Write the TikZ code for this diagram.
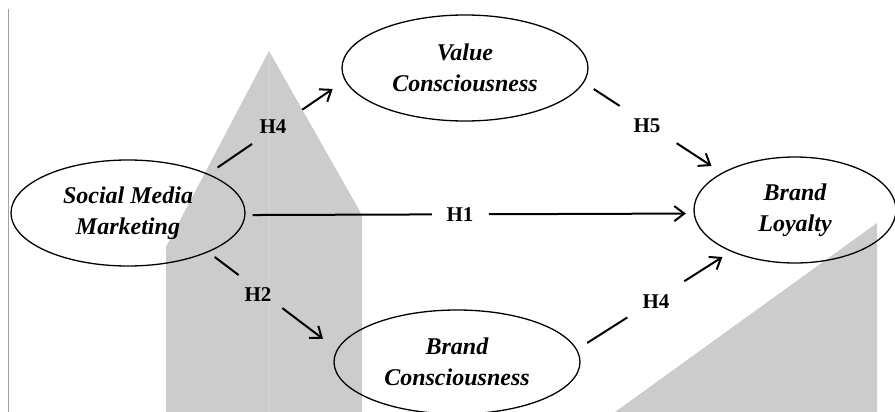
\documentclass[tikz,border=0pt]{standalone}
\usepackage{fontspec}
\setmainfont{Liberation Serif}
\usetikzlibrary{arrows.meta,shapes.geometric}
\definecolor{greyfill}{HTML}{CCCCCC}
\definecolor{seamgrey}{HTML}{D5D5D5}
\definecolor{edgegrey}{HTML}{A0A0A0}
\begin{document}
\begin{tikzpicture}[x=1pt,y=-1pt,
  construct/.style={ellipse, draw, line width=1.3pt, inner sep=0pt, align=center,
    font=\fontsize{24}{31}\selectfont\bfseries\itshape},
  hyp/.style={font=\fontsize{21}{23}\selectfont\bfseries, inner sep=0pt},
  link/.style={line width=2pt},
  linkarrow/.style={link, -{Straight Barb[length=10pt,width=15pt]}}]
\useasboundingbox (0,0) rectangle (895,412);
% background shapes
\fill[greyfill] (166,412) -- (166,247) -- (269,51) -- (362,215) -- (362,412) -- cycle;
\draw[seamgrey, line width=0.5pt] (269,51) -- (269,412);
\fill[greyfill] (615,412) -- (877,223) -- (877,412) -- cycle;
\draw[edgegrey, line width=1pt] (8,9) -- (8,412);
% constructs
\node[construct, minimum width=234pt, minimum height=106pt] (smm) at (128,213) {Social Media\\Marketing};
\node[construct, minimum width=246pt, minimum height=106pt] (vc) at (465,68) {Value\\Consciousness};
\node[construct, minimum width=246pt, minimum height=104pt] (bc) at (457,362) {Brand\\Consciousness};
\node[construct, minimum width=202pt, minimum height=106pt] (bl) at (795,210) {Brand\\Loyalty};
% hypothesis labels
\node[hyp] (h4a) at (273,127) {H4};
\node[hyp] (h5) at (647,126) {H5};
\node[hyp] (h1) at (460,215) {H1};
\node[hyp] (h2) at (258,295) {H2};
\node[hyp] (h4b) at (656,302) {H4};
% connectors
\path (smm.26) -- (vc.186.6) coordinate[pos=.068] (a1) coordinate[pos=.32] (a2)
  coordinate[pos=.688] (a3) coordinate[pos=.911] (a4);
\draw[link] (a1) -- (a2);
\draw[linkarrow] (a3) -- (a4);
\path (vc.-7) -- (bl.153.8) coordinate[pos=.071] (b1) coordinate[pos=.259] (b2)
  coordinate[pos=.672] (b3) coordinate[pos=.925] (b4);
\draw[link] (b1) -- (b2);
\draw[linkarrow] (b3) -- (b4);
\path (smm.-1) -- (bl.182.85) coordinate[pos=.0156] (c1) coordinate[pos=.416] (c2)
  coordinate[pos=.543] (c3) coordinate[pos=.983] (c4);
\draw[link] (c1) -- (c2);
\draw[linkarrow] (c3) -- (c4);
\path (smm.-26.2) -- (bc.174.6) coordinate[pos=.049] (d1) coordinate[pos=.235] (d2)
  coordinate[pos=.575] (d3) coordinate[pos=.892] (d4);
\draw[link] (d1) -- (d2);
\draw[linkarrow] (d3) -- (d4);
\path (bc.6.5) -- (bl.213.75) coordinate[pos=.066] (e1) coordinate[pos=.327] (e2)
  coordinate[pos=.697] (e3) coordinate[pos=.945] (e4);
\draw[link] (e1) -- (e2);
\draw[linkarrow] (e3) -- (e4);
\end{tikzpicture}
\end{document}
